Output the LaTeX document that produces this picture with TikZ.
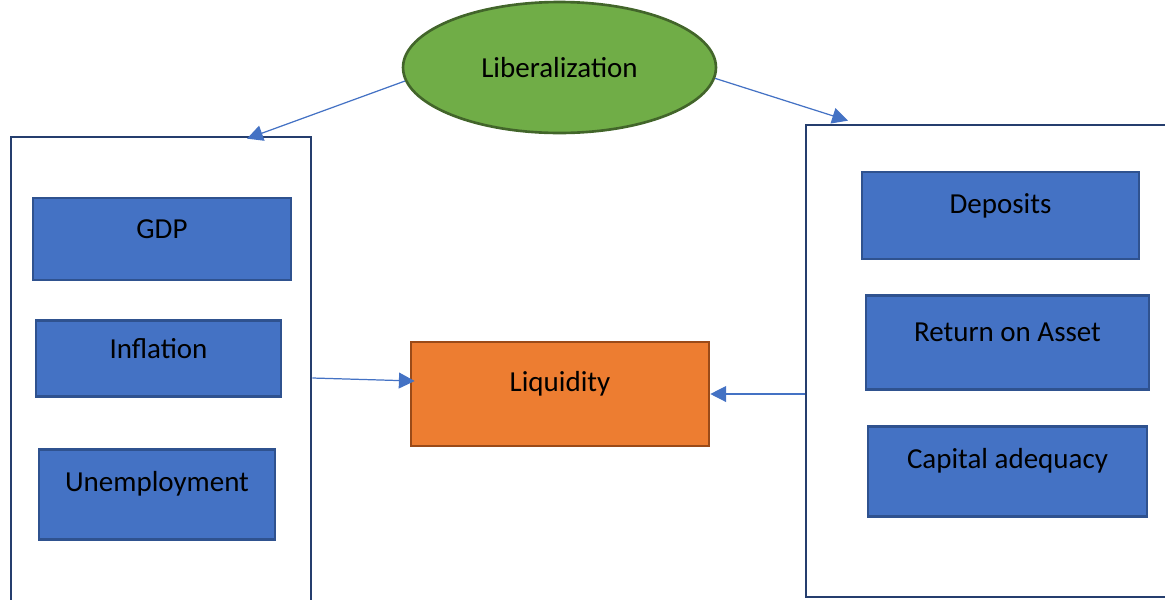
\documentclass[tikz,border=0pt]{standalone}
\usepackage{fontspec}
\setmainfont{Carlito}
\usepackage{tikz}
\usetikzlibrary{arrows.meta,positioning,shapes.geometric}
\definecolor{boxblue}{HTML}{4472C4}
\definecolor{lineblue}{HTML}{2F528F}
\definecolor{navy}{HTML}{253E6E}
\definecolor{libgreen}{HTML}{70AD47}
\definecolor{darkgreen}{HTML}{42652A}
\definecolor{liqorange}{HTML}{ED7D31}
\definecolor{darkorange}{HTML}{9A4A18}

\begin{document}
\begin{tikzpicture}[
			x=0.02cm,y=-0.02cm,
			font=\fontsize{16.5}{20}\selectfont,
			txt/.style={yshift=0.2cm},
			grp/.style={draw=navy,line width=1.6pt,fill=white,inner sep=0pt},
			var/.style={draw=lineblue,line width=1.5pt,fill=boxblue,inner sep=0pt,label={[txt]center:#1}},
			arr/.style={-{Triangle[length=9pt,width=9pt]},line width=0.7pt,boxblue}
			]
			\useasboundingbox (0,0) rectangle (1165,599);
			\clip (0,0) rectangle (1165,599);
			\node[grp,minimum width=6cm,minimum height=9.46cm] (lb) at (161,373.5) {};
			\node[grp,minimum width=7.48cm,minimum height=9.44cm] (rb) at (993,361) {};
			\node[ellipse,draw=darkgreen,line width=1.5pt,fill=libgreen,minimum width=6.26cm,minimum height=2.62cm,inner sep=0pt] (lib) at (559.5,67.5) {Liberalization};
			\node[var=GDP,minimum width=5.16cm,minimum height=1.64cm] (m1) at (162,239) {};
			\node[var=Inflation,minimum width=4.9cm,minimum height=1.52cm,below=0.76cm of m1,xshift=-0.07cm] (m2) {};
			\node[var=Unemployment,minimum width=4.72cm,minimum height=1.8cm,below=1.0cm of m2,xshift=-0.03cm] (m3) {};
			\node[var=Deposits,minimum width=5.54cm,minimum height=1.74cm] (b1) at (1000.5,215.5) {};
			\node[var=Return on Asset,minimum width=5.66cm,minimum height=1.88cm,below=0.68cm of b1,xshift=0.14cm] (b2) {};
			\node[var=Capital adequacy,minimum width=5.58cm,minimum height=1.8cm,below=0.68cm of b2] (b3) {};
			\node[draw=darkorange,line width=1.5pt,fill=liqorange,minimum width=5.96cm,minimum height=2.08cm,inner sep=0pt,label={[txt]center:Liquidity}] (liq) at (560,394) {};
			\draw[arr] (lib.185) -- ([xshift=1.72cm,yshift=-0.06cm]lb.north);
			\draw[arr] (lib.356) -- ([xshift=-2.9cm,yshift=0.06cm]rb.north);
			\draw[arr] ([yshift=-0.09cm]lb.east) -- ([xshift=0.1cm,yshift=0.26cm]liq.west);
			\draw[arr] (rb.west |- liq.east) -- (liq.east);
		\end{tikzpicture}
\end{document}
